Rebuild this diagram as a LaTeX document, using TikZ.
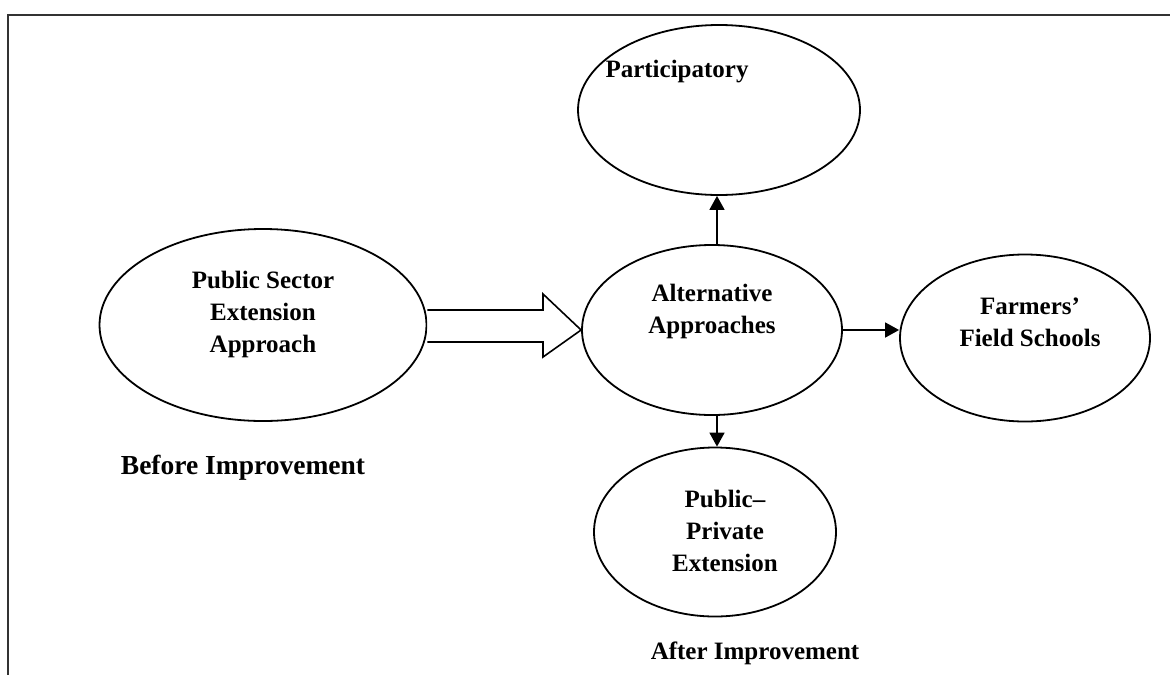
\documentclass[tikz,border=0pt]{standalone}
\usepackage{fontspec}
\setmainfont{Liberation Serif}
\usetikzlibrary{shapes.geometric,arrows.meta}
\begin{document}
\begin{tikzpicture}[x=1pt,y=-1pt,
  oval/.style={draw,ellipse,line width=1.8pt,inner sep=0pt},
  lbl/.style={font=\fontsize{25}{32}\selectfont\bfseries,align=center,inner sep=0pt},
  conn/.style={line width=1.6pt,-{Triangle[length=14pt,width=15pt]}}]
\useasboundingbox (0,0) rectangle (1170,675);
% frame
\draw[line width=2.6pt,black!80] (1170,15) -- (8,15) -- (8,675);
% ellipses
\node[oval,minimum width=327pt,minimum height=192pt] (ps) at (263,325) {};
\node[oval,minimum width=260pt,minimum height=170pt] (alt) at (712,330) {};
\node[oval,minimum width=282pt,minimum height=170pt] (par) at (719,110) {};
\node[oval,minimum width=250pt,minimum height=167pt] (ffs) at (1025,338) {};
\node[oval,minimum width=242pt,minimum height=169pt] (ppe) at (715,532) {};
% labels
\node[lbl] (pst) at (263,314) {Public Sector\\Extension\\Approach};
\node[lbl] (altt) at (712,311) {Alternative\\Approaches};
\node[lbl] (part) at (677,72) {Participatory};
\node[lbl] (ffst) at (1030,322) {Farmers’\\Field Schools};
\node[lbl] (ppet) at (725,531) {Public–\\Private\\Extension};
\node[lbl,font=\fontsize{27.5}{32}\selectfont\bfseries] (before) at (243,468) {Before Improvement};
\node[lbl] (after) at (755,653) {After Improvement};
% block arrow
\draw[line width=1.6pt,line join=miter,fill=white]
  (ps.east |- 0,310) -- (543,310) -- (543,294) -- (alt.west) -- (543,357) -- (543,342) -- (ps.east |- 0,342);
% connectors
\draw[conn] (alt.north -| 717,0) -- (par.south -| 717,0);
\draw[conn] (alt.east) -- (alt.east -| ffs.west);
\draw[conn] (alt.south -| 717,0) -- (ppe.north -| 717,0);
\end{tikzpicture}
\end{document}
